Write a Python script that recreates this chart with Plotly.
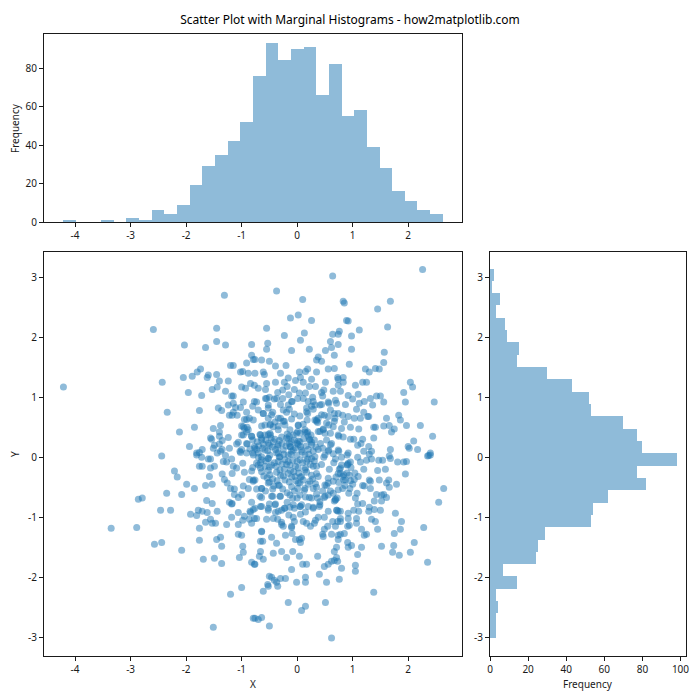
import plotly.graph_objects as go

TITLE = "Scatter Plot with Marginal Histograms - how2matplotlib.com"
x_counts = [1,0,0,1,0,2,1,6,4,9,19,29,35,42,52,76,93,84,90,91,66,82,55,58,39,28,16,11,6,4]
y_counts_top_down = [2,1,5,3,8,9,15,14,30,43,52,53,70,77,80,98,77,82,62,54,53,29,25,24,7,14,3,4,3,3]
x_bin_start, x_bin_width = -4.216, 0.228
y_bin_top, y_bin_width = 3.155, 0.2052
x_ticks = [-4,-3,-2,-1,0,1,2]
y_ticks = [-3,-2,-1,0,1,2,3]
x_tick_labels = ["-4","-3","-2","-1","0","1","2"]
y_tick_labels = ["-3","-2","-1","0","1","2","3"]

points_upper_left = [(-1.31,2.71),(-2.59,2.14),(-1.45,2.16),(-1.45,1.94),(-2.03,1.88),(-1.65,1.84),(-1.29,1.88),(-0.82,1.89),(-0.82,1.71),(-0.79,1.64),(-0.91,1.58),(-1.20,1.54),(-1.15,1.54),(-1.74,1.48),(-1.80,1.43),(-0.98,1.44),(-1.02,1.43),(-0.88,1.41),(-1.45,1.39),(-1.60,1.38),(-1.62,1.34),(-1.89,1.36),(-2.05,1.34),(-2.43,1.26),(-1.40,1.28),(-1.24,1.28),(-0.84,1.24),(-0.77,1.21),(-1.00,1.18),(-0.93,1.16),(-1.44,1.18),(-1.53,1.14),(-1.29,1.11),(-4.21,1.18),(-1.96,1.09),(-1.72,1.04),(-1.18,1.03),(-1.15,1.03),(-0.77,0.94),(-1.15,0.91),(-1.24,0.88),(-0.97,0.93),(-0.80,0.86),(-1.02,0.84),(-1.11,0.84),(-1.42,0.83),(-1.36,0.79),(-1.76,0.79),(-2.34,0.76),(-1.15,0.76),(-1.22,0.71),(-1.17,0.71),(-1.08,0.71),(-0.91,0.76),(-0.95,0.64),(-0.91,0.64),(-0.86,0.66),(-0.79,0.63),(-1.38,0.54),(-1.85,0.51),(-1.51,0.49),(-1.0,0.53),(-0.95,0.49),(-0.90,0.51),(-2.12,0.43),(-1.40,0.43),(-0.91,0.43),(-1.0,0.38),(-0.82,0.36),(-1.40,0.36),(-1.24,0.34),(-1.56,0.33),(-1.54,0.31),(-1.35,0.29),(-1.06,0.26),(-1.09,0.23),(-1.49,0.21),(-0.90,0.23),(-1.40,0.23),(-1.94,0.19),(-1.71,0.14),(-1.51,0.16),(-1.22,0.16),(-1.0,0.14),(-1.35,0.14),(-1.38,0.11),(-0.77,0.19),(-1.81,0.08),(-1.76,0.09),(-1.02,0.09),(-0.91,0.08),(-0.80,0.08),(-2.44,0.03),(-1.44,0.08),(-1.29,0.04)]

points_upper_right = [(2.26,3.14),(0.64,3.03),(-0.37,2.78),(0.10,2.64),(0.83,2.61),(0.85,2.58),(1.68,2.61),(1.45,2.48),(0.02,2.38),(-0.12,2.33),(0.26,2.29),(0.89,2.29),(0.92,2.28),(1.63,2.18),(-0.55,2.16),(1.12,2.13),(0.76,2.11),(0.64,2.06),(0.74,2.06),(-0.23,2.04),(0.13,2.08),(0.98,2.03),(0.06,1.96),(0.60,1.94),(-0.53,1.91),(0.74,1.89),(0.62,1.84),(-0.55,1.81),(-0.10,1.79),(0.22,1.81),(0.51,1.79),(0.98,1.81),(1.57,1.76),(0.67,1.71),(0.38,1.68),(0.35,1.63),(0.44,1.61),(1.56,1.59),(0.94,1.56),(-0.76,1.64),(-0.64,1.63),(-0.50,1.61),(-0.39,1.53),(-0.20,1.54),(0.56,1.48),(0.67,1.49),(1.23,1.48),(1.41,1.49),(1.48,1.48),(1.30,1.43),(0.19,1.48),(0.15,1.44),(0.04,1.43),(0.35,1.43),(-0.61,1.43),(-0.59,1.39),(-0.30,1.41),(-0.76,1.41),(-0.16,1.33),(-0.03,1.29),(0.06,1.34),(0.26,1.31),(0.73,1.34),(0.83,1.34),(0.74,1.31),(2.04,1.26),(2.08,1.18),(1.18,1.26),(1.25,1.26),(0.83,1.26),(0.51,1.26),(0.11,1.26),(-0.39,1.26),(-0.55,1.24),(-0.23,1.26),(1.05,1.21),(0.22,1.19),(0.33,1.19),(0.74,1.21),(-0.18,1.19),(-0.70,1.16),(-0.57,1.14),(-0.05,1.14),(-0.26,1.13),(-0.35,1.09),(0.48,1.13),(1.92,1.09),(0.65,1.11),(0.78,1.11),(0.44,1.09),(0.04,1.08),(0.15,1.08),(0.92,1.04),(1.10,1.06),(1.50,1.03),(1.43,1.03),(1.32,0.99),(1.0,0.98),(0.46,1.03),(0.28,1.01),(-0.50,1.01),(0.01,0.99),(-0.26,0.99),(-0.41,0.98),(-0.57,0.99),(2.47,0.93),(1.95,0.93),(1.56,0.93),(1.21,0.94),(1.12,0.91),(0.69,0.96),(0.56,0.93),(0.44,0.89),(0.29,0.94),(0.20,0.94),(-0.09,0.94),(-0.73,0.93),(-0.30,0.89),(-0.52,0.88),(0.87,0.89),(1.36,0.88),(0.71,0.91),(0.17,0.83),(0.29,0.81),(-0.14,0.81),(1.20,0.76),(1.07,0.81),(0.92,0.69),(0.67,0.74),(0.74,0.74),(0.82,0.71),(-0.19,0.76),(-0.61,0.74),(-0.44,0.76),(-0.05,0.73),(0.19,0.74),(0.49,0.71),(0.56,0.69),(1.61,0.66),(1.29,0.69),(1.27,0.69),(1.14,0.66),(1.03,0.66),(1.83,0.71),(1.86,0.63),(0.35,0.63),(0.37,0.59),(-0.23,0.61),(-0.52,0.66),(-0.30,0.66),(0.67,0.61),(0.53,0.58),(1.97,0.54),(2.22,0.54),(1.56,0.53),(1.66,0.54),(1.38,0.51),(1.41,0.51),(0.96,0.51),(1.11,0.48),(0.80,0.49),(0.02,0.54),(-0.64,0.53),(-0.48,0.56),(-0.34,0.53),(1.70,0.43),(1.75,0.48),(2.44,0.36),(1.38,0.33),(0.96,0.31),(1.02,0.31),(1.18,0.31),(0.38,0.44),(0.47,0.48),(0.60,0.41),(0.74,0.38),(0.14,0.43),(0.19,0.43),(-0.01,0.41),(-0.14,0.36),(-0.52,0.39),(-0.48,0.38),(-0.66,0.38),(2.0,0.19),(2.02,0.16),(2.10,0.28),(2.17,0.14),(1.68,0.14),(1.29,0.19),(0.62,0.24),(1.15,0.24),(1.09,0.21),(1.20,0.11),(1.34,0.11),(0.74,0.13),(0.56,0.11),(0.22,0.31),(0.26,0.26),(0.20,0.14),(0.38,0.14),(-0.16,0.31),(-0.14,0.24),(-0.12,0.18),(-0.10,0.11),(-0.32,0.29),(-0.35,0.19),(-0.50,0.21),(-0.64,0.33),(-0.61,0.23),(0.02,0.28),(0.06,0.19),(-0.73,0.14),(-0.34,0.08),(2.40,0.08),(2.37,0.04),(1.66,0.03),(1.30,0.06),(0.92,0.08),(0.65,0.07)]

points_lower_left = [(-2.21,-0.22),(-2.16,-0.32),(-1.99,-0.44),(-1.85,-0.51),(-2.35,-0.59),(-2.08,-0.61),(-2.86,-0.69),(-2.79,-0.67),(-2.46,-0.87),(-2.28,-0.87),(-3.35,-1.17),(-2.89,-1.16),(-2.57,-1.44),(-2.44,-1.41),(-2.08,-1.54),(-1.92,-0.94),(-1.81,-0.96),(-1.78,-0.87),(-1.71,-0.89),(-1.62,-0.91),(-1.44,-0.89),(-1.63,-0.71),(-1.53,-0.76),(-1.65,-1.07),(-1.56,-1.02),(-1.53,-1.09),(-1.47,-1.09),(-1.76,-1.17),(-1.76,-1.37),(-1.45,-1.36),(-1.38,-1.32),(-1.36,-1.47),(-1.69,-1.69),(-1.49,-1.67),(-1.36,-1.76),(-1.04,-1.66),(-0.98,-1.47),(-0.97,-1.57),(-0.82,-1.74),(-0.77,-1.77),(-1.06,-1.27),(-1.0,-1.29),(-1.0,-2.16),(-1.20,-2.27),(-0.79,-2.67),(-1.51,-2.82),(-1.81,0.05),(-1.72,0.01),(-1.60,-0.02),(-1.56,-0.02),(-1.76,-0.14),(-1.71,-0.14),(-1.56,-0.17),(-1.49,-0.14),(-1.33,-0.06),(-1.27,-0.07),(-1.18,-0.02),(-1.15,-0.14),(-1.09,-0.17),(-0.98,-0.09),(-1.58,-0.31),(-1.35,-0.27),(-1.17,-0.26),(-0.95,-0.24),(-0.82,-0.22),(-1.31,-0.36),(-1.26,-0.42),(-0.86,-0.36),(-0.79,-0.37),(-1.65,-0.46),(-1.53,-0.44),(-1.20,-0.51),(-1.13,-0.52),(-0.97,-0.47),(-0.88,-0.51),(-1.13,-0.61),(-1.0,-0.61),(-1.06,-0.66),(-0.82,-0.74),(-1.22,-0.74),(-1.17,-0.76),(-1.18,-0.77),(-1.06,-0.91),(-1.18,-0.99),(-1.27,-1.11),(-1.06,-1.11),(-0.98,-1.04),(-0.95,-0.97),(-0.84,-0.91),(-0.79,-0.86),(-0.86,-1.02),(-0.82,-1.09),(-0.77,-1.01),(-0.80,-0.16)]

points_lower_right = [(2.64,-0.51),(2.55,-0.74),(1.95,-0.27),(2.35,0.03),(2.40,0.05),(1.97,-0.06),(1.92,-0.07),(1.81,-0.07),(1.68,-0.01),(1.59,-0.19),(1.45,-0.21),(1.54,-0.04),(1.47,-0.04),(1.79,-0.44),(1.65,-0.37),(1.61,-0.42),(1.66,-0.49),(1.48,-0.37),(1.30,-0.37),(1.32,-0.39),(1.20,-0.19),(1.18,-0.46),(1.21,-0.47),(1.32,-0.51),(1.56,-0.61),(1.61,-0.66),(1.52,-0.62),(1.43,-0.61),(1.39,-0.72),(1.52,-0.72),(1.30,-0.82),(1.39,-0.86),(1.50,-0.87),(1.29,-0.89),(1.77,-0.92),(1.88,-1.06),(1.86,-1.19),(1.75,-1.26),(2.28,-1.16),(2.11,-1.41),(1.74,-1.46),(1.72,-1.57),(1.84,-1.62),(2.04,-1.57),(2.35,-1.74),(1.52,-1.47),(1.16,-1.19),(1.45,-1.19),(1.34,-1.02),(1.41,-1.06),(1.25,-1.27),(1.21,-1.29),(1.16,-1.49),(1.09,-1.61),(1.05,-1.79),(1.05,-1.89),(1.38,-2.24),(0.62,-3.0),(0.51,-2.41),(0.15,-2.47),(0.08,-2.54),(-0.16,-2.41),(-0.50,-2.80),(-0.64,-2.66),(-0.70,-2.69),(-0.76,-2.67),(-0.61,-2.22),(-0.52,-2.14),(-0.53,-2.11),(-0.50,-1.97),(-0.46,-1.99),(-0.41,-2.04),(-0.35,-2.14),(-0.37,-2.07),(-0.30,-2.01),(-0.21,-2.01),(-0.10,-1.86),(-0.01,-2.07),(0.15,-2.07),(0.15,-1.99),(0.40,-1.94),(0.53,-2.07),(0.76,-2.02),(0.80,-1.84),(0.10,-1.77),(0.17,-1.77),(0.49,-1.81),(0.56,-1.77),(0.62,-1.72),(0.67,-1.71),(0.73,-1.72),(0.71,-1.66),(0.67,-1.56),(0.71,-1.49),(0.37,-1.64),(0.04,-1.64),(-0.08,-1.56),(-0.19,-1.66),(-0.28,-1.56),(-0.43,-1.59),(-0.61,-1.69),(-0.66,-1.56),(-0.68,-1.64),(-0.76,-1.77),(-0.37,-1.42),(-0.46,-1.32),(-0.64,-1.22),(-0.62,-1.39),(-0.66,-1.39),(-0.03,-1.36),(0.04,-1.36),(0.08,-1.34),(0.06,-1.41),(-0.21,-1.29),(-0.09,-1.26),(-0.10,-1.16),(-0.05,-1.06),(-0.28,-1.11),(-0.25,-1.14),(-0.55,-1.02),(-0.43,-1.01),(-0.35,-1.02),(-0.73,-1.01),(-0.07,-0.99),(0.06,-0.94),(0.11,-1.06),(0.17,-1.09),(0.24,-1.14),(0.31,-1.09),(0.33,-1.04),(0.38,-0.99),(0.49,-0.99),(0.56,-0.89),(0.55,-1.14),(0.49,-1.19),(0.46,-1.27),(0.47,-1.31),(0.62,-1.27),(0.64,-1.06),(0.69,-1.14),(0.73,-1.06),(0.74,-1.29),(0.78,-1.27),(0.85,-1.26),(0.74,-1.36),(0.91,-1.41),(0.92,-1.49),(0.98,-1.46),(0.94,-1.12),(0.91,-1.14),(1.07,-1.09),(1.07,-1.01),(0.92,-1.01),(0.92,-0.92),(1.02,-0.87),(1.11,-0.89),(1.18,-0.76),(1.09,-0.77),(0.71,-0.87),(0.74,-0.89),(0.78,-1.01),(0.67,-0.72),(0.69,-0.69),(0.49,-0.66),(0.56,-0.62),(0.40,-0.81),(0.29,-0.82),(0.20,-0.81),(0.37,-0.67),(0.22,-0.66),(0.06,-0.81),(-0.05,-0.84),(-0.08,-0.67),(-0.18,-0.74),(-0.30,-0.64),(-0.44,-0.64),(-0.50,-0.77),(-0.66,-0.81),(-0.39,-0.77),(-0.52,-0.87),(-0.39,-0.91),(-0.28,-0.87),(-0.23,-0.84),(-0.76,-0.84),(-0.64,-0.66),(-0.73,-0.52),(-0.64,-0.51),(-0.44,-0.52),(-0.32,-0.46),(-0.50,-0.40),(-0.14,-0.40),(0.01,-0.51),(0.13,-0.54),(0.35,-0.49),(0.53,-0.46),(0.56,-0.42),(0.65,-0.39),(0.82,-0.51),(0.84,-0.37),(1.0,-0.44),(1.03,-0.36),(0.94,-0.29),(0.78,-0.26),(0.76,-0.19),(0.56,-0.34),(0.38,-0.31),(0.26,-0.29),(0.06,-0.32),(-0.10,-0.32),(-0.30,-0.29),(-0.52,-0.21),(-0.66,-0.17),(-0.38,-0.14),(-0.23,-0.19),(-0.03,-0.14),(0.15,-0.17),(0.35,-0.14),(0.44,-0.11),(0.58,-0.19),(0.91,-0.11),(0.96,-0.07),(1.14,-0.07),(1.25,-0.04),(1.34,-0.02),(1.09,0.01),(0.80,0.01),(0.69,-0.02),(0.48,0.01),(0.19,-0.02),(-0.16,-0.06),(-0.32,0.01),(-0.52,-0.01),(-0.70,0.01)]

points_centre = [(-0.97,0.52),(-0.88,0.47),(-0.97,0.38),(-0.82,0.36),(-0.67,0.39),(-0.58,0.38),(-0.49,0.41),(-0.43,0.52),(-0.34,0.47),(-0.25,0.61),(-0.22,0.55),(-0.13,0.47),(-0.07,0.38),(0.01,0.44),(-0.58,0.55),(-0.49,0.55),(-0.64,0.30),(-0.52,0.24),(-0.43,0.27),(-0.34,0.22),(-0.19,0.33),(-0.10,0.27),(0,0.24),(-0.13,0.19),(-0.07,0.13),(-0.25,0.13),(-0.37,0.08),(-0.58,0.13),(-0.70,0.08),(-0.76,0.16),(-0.49,0.05),(-0.64,0.02),(-0.31,0.02),(-0.16,0.05),(0,0.05),(-0.79,0.05),(-0.91,0.24),(-1.03,0.11),(-0.46,0.72),(-0.52,0.83),(-0.37,0.99),(-0.55,0.99),(-0.16,0.88),(-0.10,0.94),(-0.25,0.80),(-0.34,0.66),(-0.61,0.74),(-0.70,0.80),(-0.64,-0.03),(-0.52,-0.01),(-0.73,-0.09),(-0.58,-0.14),(-0.46,-0.12),(-0.34,-0.06),(-0.22,-0.03),(-0.13,-0.12),(0,-0.06),(-0.64,-0.23),(-0.49,-0.28),(-0.31,-0.2),(-0.16,-0.26),(-0.04,-0.31),(-0.76,-0.37),(-0.79,-0.39),(-0.64,-0.51),(-0.52,-0.42),(-0.34,-0.45),(-0.22,-0.37),(-0.10,-0.48),(0.02,-0.42),(-0.67,-0.64),(-0.46,-0.64),(-0.31,-0.64),(-0.13,-0.62),(0,-0.67),(-0.64,-0.81),(-0.52,-0.84),(-0.40,-0.78),(-0.22,-0.84),(-0.07,-0.78),(0.05,-0.81),(-0.34,-0.89),(-0.13,-0.82),(-0.28,-1.07),(-0.10,-1.14),(-0.85,-0.89),(-0.64,-1.23),(0.05,-0.03),(0.17,-0.06),(0.26,-0.01),(0.02,-0.17),(0.14,-0.2),(0.29,-0.14),(0.35,-0.26),(0.78,-0.17),(0.74,-0.26),(0.84,-0.28),(0.87,-0.37),(0.90,-0.12),(0.92,-0.09),(0.08,-0.31),(0.23,-0.39),(0.05,-0.42),(0.14,-0.51),(0.29,-0.51),(0.50,-0.45),(0.05,-0.62),(0.26,-0.67),(0.41,-0.73),(0.50,-0.64),(0.69,-0.70),(0.72,-0.67),(0.08,-0.78),(0.29,-0.84),(0.41,-0.78),(0.65,-0.59),(0.74,-0.53),(0.93,-0.59),(0.95,-0.51),(0.72,-0.87),(0.78,-0.89),(0.78,-1.06),(1.08,-0.59),(1.05,-0.67),(0.32,0.63),(0.35,0.61),(0.38,0.66),(0.02,0.55),(0.14,0.47),(0.17,0.41),(0.20,0.36),(0.05,0.41),(0.23,0.30),(0.26,0.22),(0.29,0.11),(0.05,0.27),(0.02,0.22),(0.08,0.13),(0.14,0.05),(0.32,0.02),(0.47,0.47),(0.57,0.55),(0.50,0.41),(0.41,0.44),(0.60,0.22),(0.75,0.36),(0.68,0.66),(0.50,0.05),(0.75,0.11),(0.90,0.05),(0.57,0.13),(0.44,0.72),(0.32,0.88),(0.26,0.86),(0.41,0.88),(0.57,0.91),(0.17,0.77),(0.11,0.99)]

points_dense_core = [(-0.72,0.27),(-0.69,0.20),(-0.62,0.16),(-0.56,0.30),(-0.53,0.12),(-0.47,0.33),(-0.45,0.18),(-0.40,0.31),(-0.39,0.14),(-0.28,0.35),(-0.27,0.24),(-0.24,0.06),(-0.20,0.20),(-0.18,0.40),(-0.11,0.06),(-0.05,0.30),(-0.03,0.17),(-0.70,-0.12),(-0.66,-0.08),(-0.60,-0.30),(-0.56,-0.05),(-0.54,-0.33),(-0.50,-0.15),(-0.44,-0.35),(-0.41,-0.08),(-0.37,-0.24),(-0.36,-0.38),(-0.27,-0.10),(-0.25,-0.30),(-0.19,-0.11),(-0.12,-0.21),(-0.08,-0.04),(-0.06,-0.23),(-0.02,-0.38),(-0.57,-0.55),(-0.42,-0.47),(-0.26,-0.52),(-0.18,-0.58),(-0.05,-0.55),(0.03,-0.25),(0.10,-0.08),(0.11,-0.37),(0.17,-0.24),(0.20,-0.44),(0.24,-0.11),(0.28,-0.35),(0.31,-0.05),(0.33,-0.43),(0.09,0.10),(0.12,0.32),(0.16,0.20),(0.21,0.06),(0.25,0.38),(0.31,0.30),(0.34,0.18),(0.11,0.56),(0.18,0.63),(0.42,0.24),(0.46,0.16),(0.53,0.30),(0.66,-0.08),(0.70,-0.32),(0.75,-0.41),(0.80,-0.12),(0.82,-0.31),(0.86,-0.46),(0.90,-0.25),(0.96,-0.38),(0.97,-0.16),(1.04,-0.25),(1.10,-0.31),(0.60,-0.55),(0.46,-0.55),(0.35,-0.60),(0.15,-0.65),(-0.15,-0.95),(0.15,-0.90),(0.65,0.52),(0.83,0.35),(0.85,0.60),(0.60,0.80),(0.05,0.70),(-0.10,0.65),(-0.40,0.60),(-0.15,1.05),(-0.80,0.30),(-0.85,0.15)]

scatter_points = points_upper_left + points_upper_right + points_lower_left + points_lower_right + points_centre + points_dense_core
scatter_x = [p[0] for p in scatter_points]
scatter_y = [p[1] for p in scatter_points]

x_centres = [x_bin_start + (i + 0.5) * x_bin_width for i in range(len(x_counts))]
y_centres = [y_bin_top - (i + 0.5) * y_bin_width for i in range(len(y_counts_top_down))]

W = H = 700.0
FONT = "Noto Sans"
INK = "#1a1a1a"
BAR = "rgba(31,119,180,0.5)"
axis_style = dict(showline=True, mirror=True, linecolor=INK, linewidth=1, showgrid=False, zeroline=False, automargin=False,
                  ticks="outside", ticklen=4, tickwidth=1, tickcolor=INK, tickfont=dict(size=10, family=FONT, color=INK))

fig = go.Figure()
fig.add_trace(go.Scatter(x=scatter_x, y=scatter_y, mode="markers", xaxis="x", yaxis="y",
                         marker=dict(size=7, color="#1f77b4", opacity=0.5, line=dict(width=0))))
fig.add_trace(go.Bar(x=x_centres, y=x_counts, width=x_bin_width, xaxis="x2", yaxis="y2",
                     marker=dict(color=BAR, line=dict(width=0))))
fig.add_trace(go.Bar(y=y_centres, x=y_counts_top_down, width=y_bin_width, orientation="h", xaxis="x3", yaxis="y3",
                     marker=dict(color=BAR, line=dict(width=0))))

def label(text, px, py, angle=0):
    return dict(text=text, xref="paper", yref="paper", x=px/W, y=1-py/H, xanchor="center", yanchor="middle",
                showarrow=False, textangle=angle, font=dict(size=10, family=FONT, color=INK))

x_range = [-4.56, 2.97]
y_range = [-3.30, 3.43]
fig.update_layout(
    width=700, height=700, autosize=False, showlegend=False, bargap=0,
    paper_bgcolor="white", plot_bgcolor="white",
    margin=dict(l=0, r=0, t=0, b=0),
    title=dict(text=TITLE, x=350/W, xanchor="center", y=1-19.5/H, yanchor="middle",
               font=dict(size=12, family=FONT, color="#000000")),
    annotations=[label("X", 253, 684), label("Y", 15, 454, -90), label("Frequency", 15, 128, -90), label("Frequency", 588, 684)],
    xaxis=dict(domain=[44/W, 462/W], range=x_range, anchor="y", tickvals=x_ticks, ticktext=x_tick_labels, **axis_style),
    yaxis=dict(domain=[1-656/H, 1-252/H], range=y_range, anchor="x", tickvals=y_ticks, ticktext=y_tick_labels, **axis_style),
    xaxis2=dict(domain=[44/W, 462/W], range=x_range, anchor="y2", tickvals=x_ticks, ticktext=x_tick_labels, **axis_style),
    yaxis2=dict(domain=[1-222/H, 1-34/H], range=[0, 97.7], anchor="x2", tickvals=[0,20,40,60,80], **axis_style),
    xaxis3=dict(domain=[490/W, 686/W], range=[0, 102.9], anchor="y3", tickvals=[0,20,40,60,80,100], **axis_style),
    yaxis3=dict(domain=[1-656/H, 1-252/H], range=y_range, anchor="x3", tickvals=y_ticks, ticktext=y_tick_labels, **axis_style),
)
fig.write_html("out.html", config={"displayModeBar": False}, post_script="document.body.style.margin='0';")
